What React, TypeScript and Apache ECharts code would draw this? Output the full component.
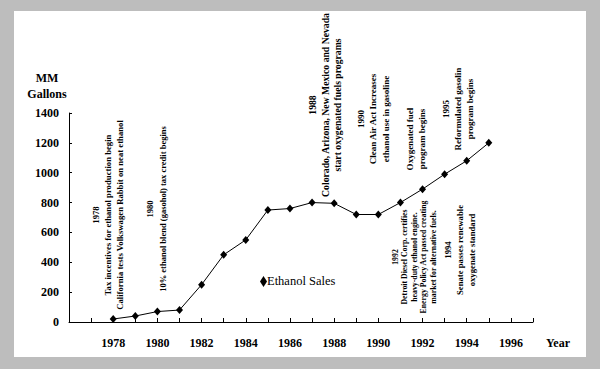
import React, { useEffect, useRef } from "react";
import * as echarts from "echarts";

const years = [1978, 1979, 1980, 1981, 1982, 1983, 1984, 1985, 1986, 1987, 1988, 1989, 1990, 1991, 1992, 1993, 1994, 1995];
const sales = [20, 40, 70, 80, 250, 450, 550, 750, 760, 800, 795, 720, 720, 800, 890, 990, 1080, 1200];
const seriesName = "Ethanol Sales";
const yTicks = [0, 200, 400, 600, 800, 1000, 1200, 1400];

const notes = [
  { lines: ["1978", "Tax incentives for ethanol production begin", "California tests Volkswagen Rabbit on neat ethanol"] },
  { lines: ["1980", "10% ethanol blend (gasohol) tax credit begins"] },
  { lines: ["1988", "Colorado, Arizona, New Mexico and Nevada", "start oxygenated fuels programs"] },
  { lines: ["1990", "Clean Air Act Increases", "ethanol use in gasoline"] },
  { lines: ["Oxygenated fuel", "program begins"] },
  { lines: ["1995", "Reformulated gasolin", "program begins"] },
  { lines: ["1992", "Detroit Diesel Corp. certifies", "heavy-duty ethanol engine.", "Energy Policy Act passed creating", "market for alternative fuels."] },
  { lines: ["1994", "Senate passes renewable", "oxygenate standard"] },
];

const FONT = '"Liberation Serif", "Times New Roman", serif';

// layout for each note block: center x, center y, font size, line height
const noteLayout = [
  [108, 215, 8.7, 11.7],
  [156.5, 209, 8.5, 13],
  [325, 105, 9.7, 12.5],
  [373, 119, 9, 12.5],
  [416, 139, 9, 12],
  [458, 109, 9, 12],
  [414, 257, 7.8, 9.5],
  [460, 250, 8.7, 12],
];

export default function App() {
  const ref = useRef<HTMLDivElement>(null);
  useEffect(() => {
    if (!ref.current) return;
    const chart = echarts.init(ref.current, null, { renderer: "svg" });
    const graphics: any[] = notes.map((n, i) => {
      const [x, y, fs, lh] = noteLayout[i];
      return {
        type: "text",
        x,
        y,
        rotation: Math.PI / 2,
        silent: true,
        style: {
          text: n.lines.join("\n"),
          x: 0,
          y: 0,
          textAlign: "center",
          textVerticalAlign: "middle",
          fontFamily: FONT,
          fontWeight: "bold",
          fontSize: fs,
          lineHeight: lh,
          fill: "#000",
        },
      };
    });
    graphics.push({
      type: "text",
      x: 47,
      y: 86,
      silent: true,
      style: {
        text: "MM\nGallons",
        x: 0,
        y: 0,
        textAlign: "center",
        textVerticalAlign: "middle",
        fontFamily: FONT,
        fontWeight: "bold",
        fontSize: 12,
        lineHeight: 16,
        fill: "#000",
      },
    });
    graphics.push({
      type: "text",
      x: 546,
      y: 343,
      silent: true,
      style: {
        text: "Year",
        x: 0,
        y: 0,
        textAlign: "left",
        textVerticalAlign: "middle",
        fontFamily: FONT,
        fontWeight: "bold",
        fontSize: 12,
        fill: "#000",
      },
    });
    graphics.push({
      type: "text",
      x: 267,
      y: 281,
      silent: true,
      style: {
        text: seriesName,
        x: 0,
        y: 0,
        textAlign: "left",
        textVerticalAlign: "middle",
        fontFamily: FONT,
        fontWeight: "normal",
        fontSize: 12.5,
        fill: "#000",
      },
    });

    chart.setOption({
      animation: false,
      backgroundColor: "transparent",
      textStyle: { fontFamily: FONT },
      grid: { left: 69, right: 67, top: 113, bottom: 47, containLabel: false },
      legend: {
        data: [seriesName],
        left: 255,
        top: 271,
        icon: "diamond",
        itemWidth: 7,
        itemHeight: 11,
        itemGap: 4,
        formatter: () => "",
        textStyle: { fontFamily: FONT, fontSize: 12, color: "#000" },
      },
      xAxis: {
        type: "value",
        min: 1976,
        max: 1997,
        interval: 1,
        splitLine: { show: false },
        axisLine: { lineStyle: { color: "#000", width: 1 } },
        axisTick: { inside: true, length: 4, lineStyle: { color: "#000" } },
        axisLabel: {
          margin: 15,
          color: "#000",
          fontFamily: FONT,
          fontWeight: "bold",
          fontSize: 12,
          formatter: (v: number) => (v >= 1978 && v <= 1996 && v % 2 === 0 ? String(v) : ""),
        },
      },
      yAxis: {
        type: "value",
        min: yTicks[0],
        max: yTicks[yTicks.length - 1],
        interval: 200,
        splitLine: { show: false },
        axisLine: { show: true, lineStyle: { color: "#000", width: 1 } },
        axisTick: { show: true, inside: true, length: 3, lineStyle: { color: "#000" } },
        axisLabel: {
          margin: 10,
          color: "#000",
          fontFamily: FONT,
          fontWeight: "bold",
          fontSize: 12,
          formatter: (v: number) => String(v),
        },
      },
      series: [
        {
          name: seriesName,
          type: "line",
          data: years.map((y, i) => [y, sales[i]]),
          symbol: "diamond",
          symbolSize: [7, 8],
          itemStyle: { color: "#000" },
          lineStyle: { color: "#000", width: 1 },
        },
      ],
      graphic: graphics,
    });
    return () => chart.dispose();
  }, []);

  return (
    <div style={{ position: "absolute", left: 0, top: 0, width: 600, height: 369, background: "#bdbdbd" }}>
      <div style={{ position: "absolute", left: 14, top: 11, width: 572, height: 346, background: "#fff" }} />
      <div ref={ref} style={{ position: "absolute", left: 0, top: 0, width: 600, height: 369 }} />
    </div>
  );
}
